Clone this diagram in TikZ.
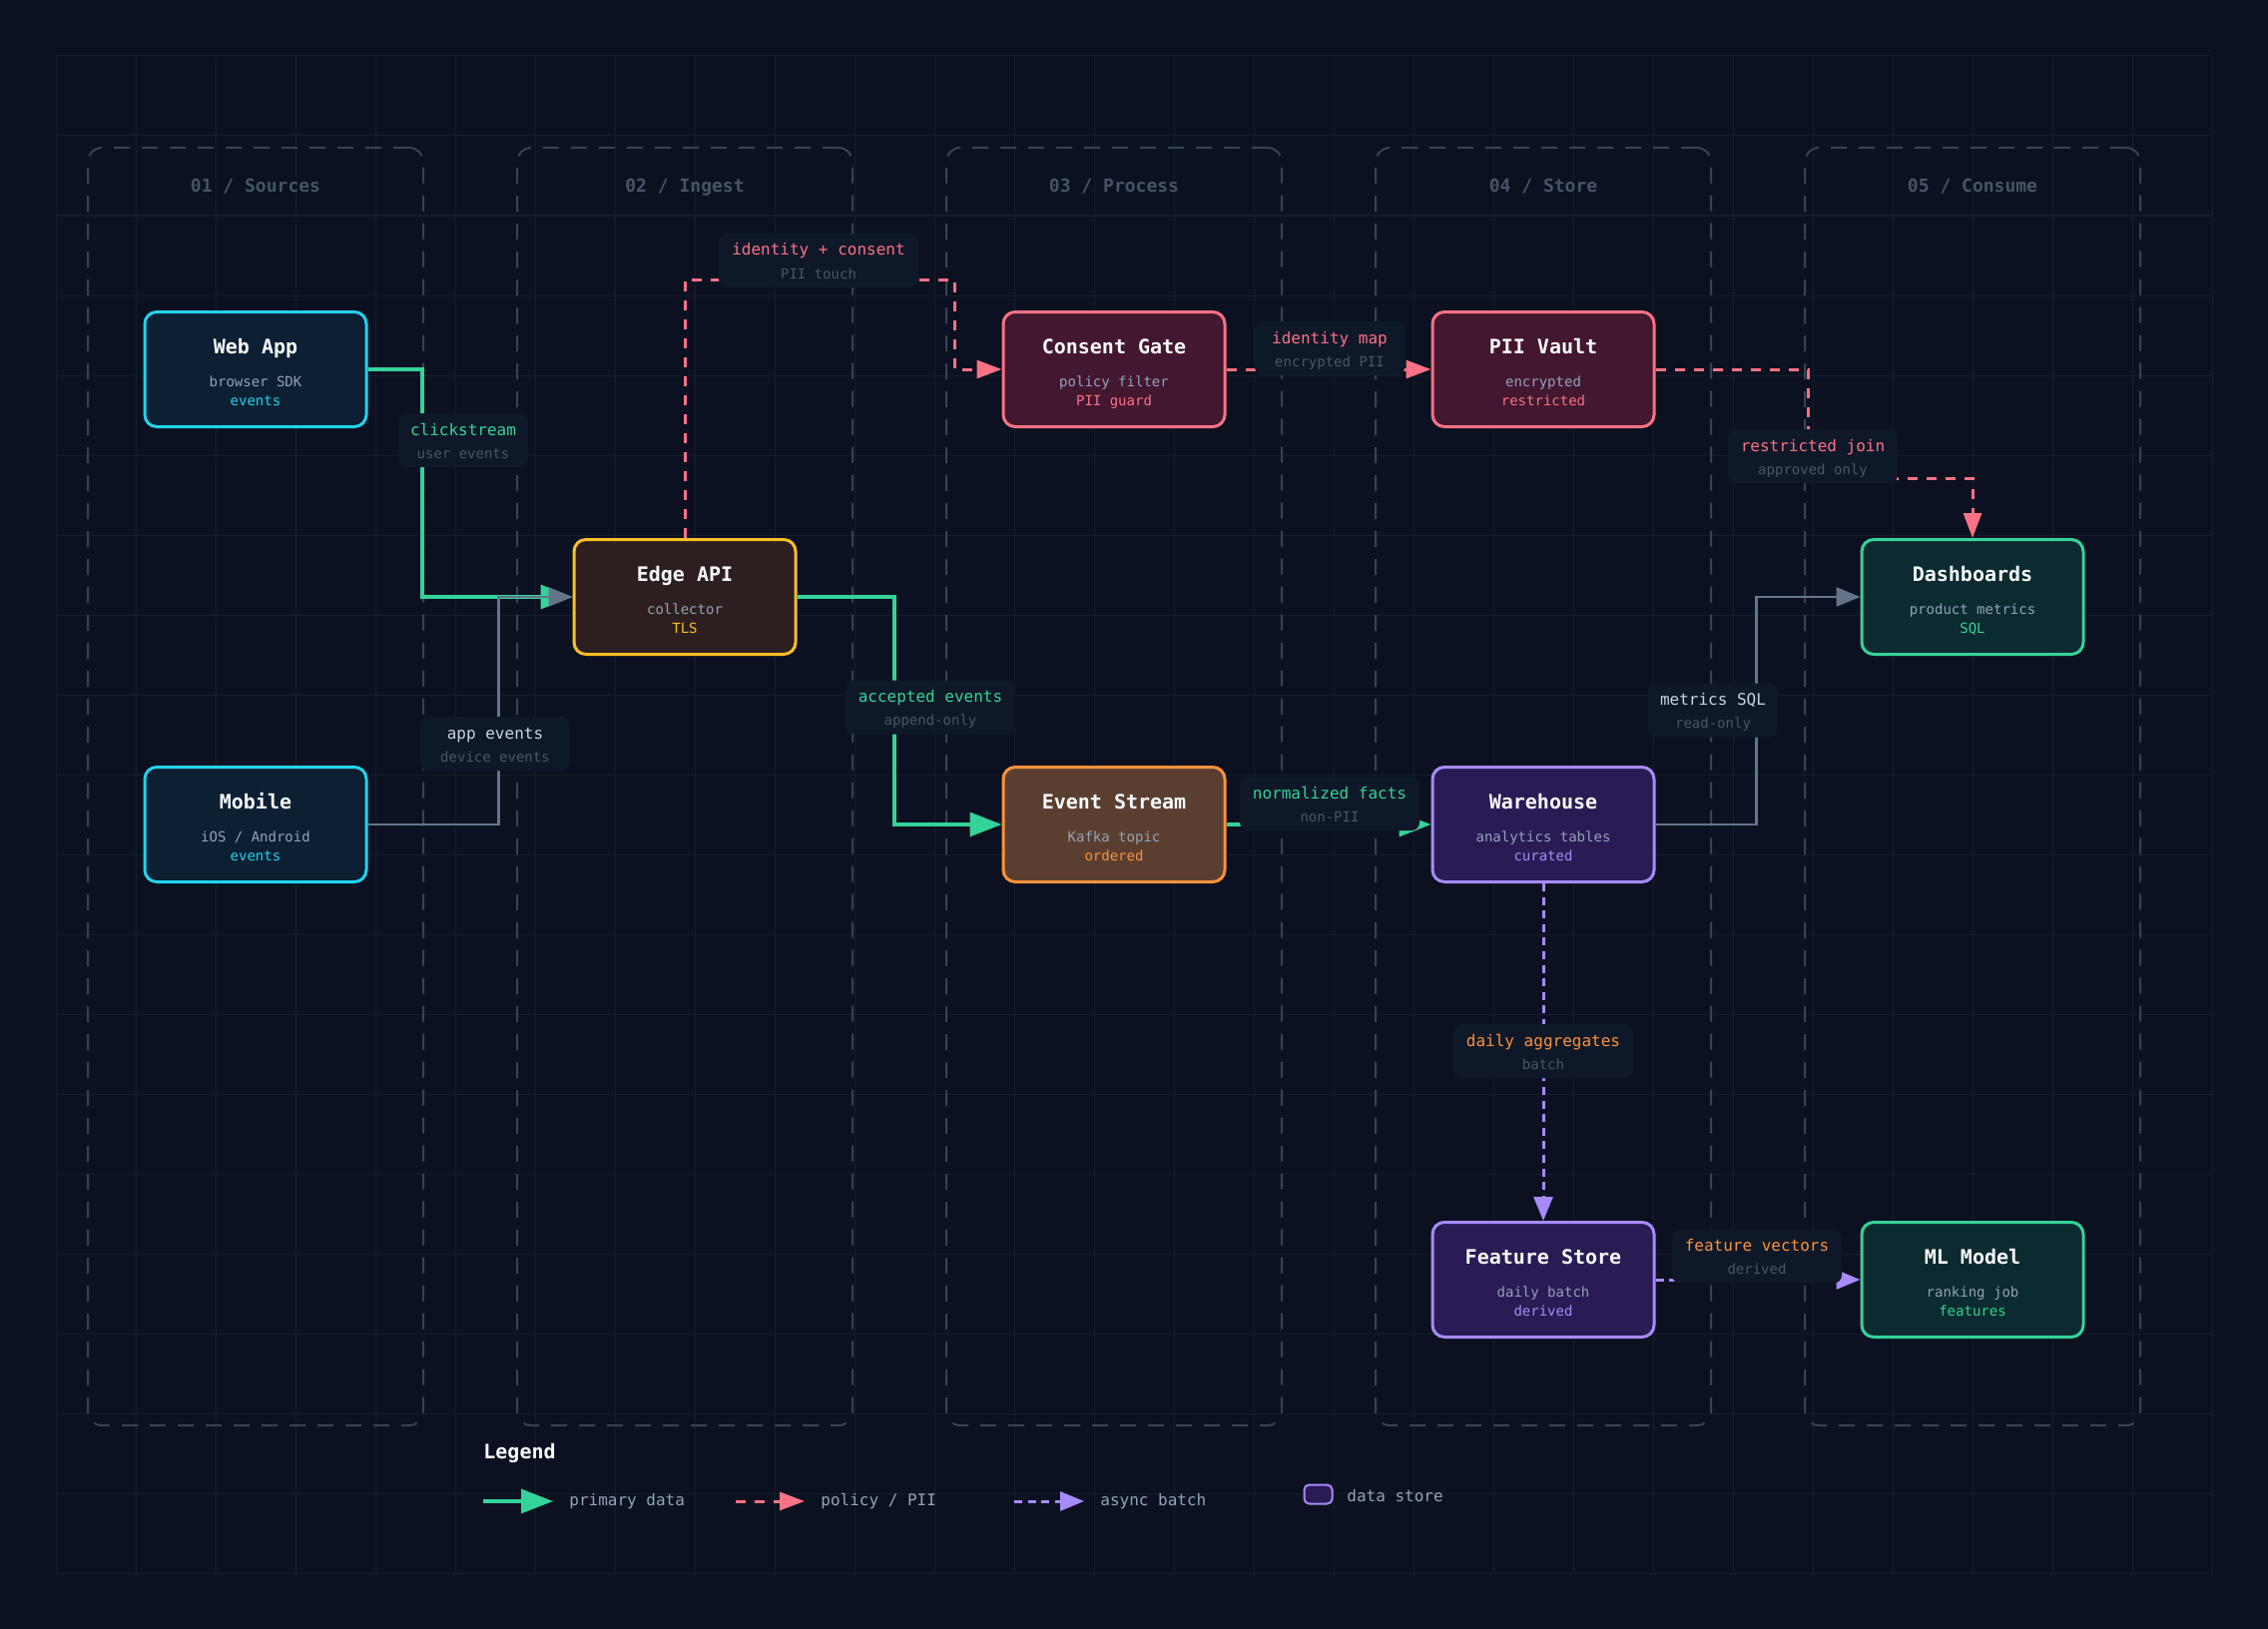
\documentclass[tikz,border=0pt]{standalone}
\usepackage{fontspec}
\setmainfont{DejaVu Sans Mono}
\usetikzlibrary{arrows.meta}
\definecolor{bg}{HTML}{0B1120}
\definecolor{gridc}{HTML}{141D2B}
\definecolor{lanec}{HTML}{364354}
\definecolor{lanetxt}{HTML}{475467}
\definecolor{lblbg}{HTML}{0F1828}
\definecolor{subtxt}{HTML}{94A3B8}
\definecolor{dimtxt}{HTML}{4B5563}
\definecolor{titletxt}{HTML}{F8FAFC}
\definecolor{cyanc}{HTML}{22D3EE}
\definecolor{cyanf}{HTML}{0C1F33}
\definecolor{amberc}{HTML}{FBBF24}
\definecolor{amberf}{HTML}{2D1F20}
\definecolor{pinkc}{HTML}{FB7185}
\definecolor{pinkf}{HTML}{42172F}
\definecolor{orangec}{HTML}{FB923C}
\definecolor{orangef}{HTML}{5A3F30}
\definecolor{purplec}{HTML}{A78BFA}
\definecolor{purplef}{HTML}{2A1B55}
\definecolor{greenc}{HTML}{34D399}
\definecolor{greenf}{HTML}{0B2B30}
\definecolor{grayc}{HTML}{64748B}
\definecolor{lightlbl}{HTML}{CBD5E1}
\tikzset{
  flowbox/.style={draw, line width=1.5pt, rounded corners=6pt, minimum width=111pt, minimum height=57.5pt, inner sep=0pt},
  ttltext/.style={anchor=base, inner sep=0pt, text=titletxt, font=\fontsize{10pt}{12pt}\selectfont\bfseries},
  subtext/.style={anchor=base, inner sep=0pt, text=subtxt, font=\fontsize{7pt}{8pt}\selectfont},
  lanebox/.style={draw=lanec, line width=1pt, dash pattern=on 8pt off 6pt, rounded corners=7pt, minimum width=168pt, minimum height=640pt, inner sep=0pt},
  lanetitle/.style={anchor=base, inner sep=0pt, text=lanetxt, font=\fontsize{9pt}{11pt}\selectfont\bfseries},
  lblbox/.style={fill=lblbg, rounded corners=4pt, minimum height=27pt, inner sep=0pt},
  lblmain/.style={anchor=base, inner sep=0pt, font=\fontsize{8pt}{10pt}\selectfont},
  lblsub/.style={anchor=base, inner sep=0pt, text=dimtxt, font=\fontsize{7pt}{8pt}\selectfont},
  legtext/.style={anchor=base west, inner sep=0pt, text=subtxt, font=\fontsize{8pt}{10pt}\selectfont},
  gridline/.style={draw=gridc, line width=0.5pt},
  primary/.style={draw=greenc, line width=1.6pt, -{Triangle[length=16pt,width=12pt]}},
  graylink/.style={draw=grayc, line width=1.3pt, -{Triangle[length=12pt,width=9.5pt]}},
  policy/.style={draw=pinkc, line width=1.5pt, dash pattern=on 5pt off 4.5pt, -{Triangle[length=12.5pt,width=9pt]}},
  async/.style={draw=purplec, line width=1.5pt, dash pattern=on 4pt off 2.8pt, -{Triangle[length=12pt,width=9.5pt]}},
}
\newcommand{\flownode}[8]{%
  \node[flowbox, fill=#4, draw=#5] (#1) at (#2,#3) {};
  \node[ttltext] (#1-title) at (#2,#3-16) {#6};
  \node[subtext] (#1-sub) at (#2,#3+17) {#7};
  \node[subtext, text=#5] (#1-tag) at (#2,#3+36) {#8};
}
\newcommand{\edgelabel}[7]{%
  \node[lblbox, minimum width=#4pt] (#1) at (#2,#3) {};
  \node[lblmain, text=#5] (#1-main) at (#2,#3-5) {#6};
  \node[lblsub] (#1-sub) at (#2,#3+18) {#7};
}
\newcommand{\lane}[3]{%
  \node[lanebox] (#1) at (#2,788) {};
  \node[lanetitle] (#1-title) at (#2,192) {#3};
}
\begin{document}
\begin{tikzpicture}[x=0.5pt,y=-0.5pt]
\fill[bg] (0,0) rectangle (2272,1632);
\useasboundingbox (0,0) rectangle (2272,1632);
% grid
\foreach \gx in {56,136,...,2216} \draw[gridline] (\gx,56) -- (\gx,1576);
\foreach \gy in {56,136,...,1576} \draw[gridline] (56,\gy) -- (2216,\gy);
% lanes
\lane{lane1}{256}{01 / Sources}
\lane{lane2}{686}{02 / Ingest}
\lane{lane3}{1116}{03 / Process}
\lane{lane4}{1546}{04 / Store}
\lane{lane5}{1976}{05 / Consume}
% nodes
\flownode{web}{256}{370}{cyanf}{cyanc}{Web App}{browser SDK}{events}
\flownode{mobile}{256}{826}{cyanf}{cyanc}{Mobile}{iOS / Android}{events}
\flownode{edge}{686}{598}{amberf}{amberc}{Edge API}{collector}{TLS}
\flownode{consent}{1116}{370}{pinkf}{pinkc}{Consent Gate}{policy filter}{PII guard}
\flownode{stream}{1116}{826}{orangef}{orangec}{Event Stream}{Kafka topic}{ordered}
\flownode{vault}{1546}{370}{pinkf}{pinkc}{PII Vault}{encrypted}{restricted}
\flownode{warehouse}{1546}{826}{purplef}{purplec}{Warehouse}{analytics tables}{curated}
\flownode{feature}{1546}{1282}{purplef}{purplec}{Feature Store}{daily batch}{derived}
\flownode{dash}{1976}{598}{greenf}{greenc}{Dashboards}{product metrics}{SQL}
\flownode{ml}{1976}{1282}{greenf}{greenc}{ML Model}{ranking job}{features}
% bend coordinates
\coordinate (b3) at (956,280);
\coordinate (b7) at (1811,479);
% connectors
\draw[primary] (web.east) -- ++(54.5,0) |- (edge.west);
\draw[graylink] (mobile.east) -- ++(131,0) |- (edge.west);
\draw[policy] (edge.north) |- (b3) |- (consent.west);
\draw[primary] (edge.east) -- ++(97.5,0) |- (stream.west);
\draw[policy] (consent.east) -- (vault.west);
\draw[primary] (stream.east) -- (warehouse.west);
\draw[policy] (vault.east) -| (b7) -| (dash.north);
\draw[graylink] (warehouse.east) -- ++(101,0) |- (dash.west);
\draw[async] (warehouse.south) -- (feature.north);
\draw[async] (feature.east) -- (ml.west);
% labels
\edgelabel{l1}{464}{441}{65}{greenc}{clickstream}{user events}
\edgelabel{l2}{496}{745}{75}{lightlbl}{app events}{device events}
\edgelabel{l3}{820}{261}{100}{pinkc}{identity + consent}{PII touch}
\edgelabel{l4}{932}{708.5}{85}{greenc}{accepted events}{append-only}
\edgelabel{l5}{1332}{349}{75}{pinkc}{identity map}{encrypted PII}
\edgelabel{l6}{1332}{805}{90}{greenc}{normalized facts}{non-PII}
\edgelabel{l7}{1816}{457}{85}{pinkc}{restricted join}{approved only}
\edgelabel{l8}{1716}{711.5}{65}{lightlbl}{metrics SQL}{read-only}
\edgelabel{l9}{1546}{1053}{90}{orangec}{daily aggregates}{batch}
\edgelabel{l10}{1760}{1258.5}{85}{orangec}{feature vectors}{derived}
% legend
\node[ttltext, anchor=base west] (legend) at (484,1461) {Legend};
\coordinate (lg1s) at (484,1504); \coordinate (lg1e) at (554,1504);
\coordinate (lg2s) at (737,1504); \coordinate (lg2e) at (806,1504);
\coordinate (lg3s) at (1016,1504); \coordinate (lg3e) at (1086,1504);
\draw[primary] (lg1s) -- (lg1e);
\draw[policy] (lg2s) -- (lg2e);
\draw[async] (lg3s) -- (lg3e);
\node[legtext] (lgt1) at (570,1508) {primary data};
\node[legtext] (lgt2) at (822,1508) {policy / PII};
\node[legtext] (lgt3) at (1102,1508) {async batch};
\node[draw=purplec, fill=purplef, line width=1pt, rounded corners=2.5pt, minimum width=14pt, minimum height=9.5pt, inner sep=0pt] (ds) at (1320.5,1497) {};
\node[legtext] (lgt4) at (1349,1504) {data store};
\end{tikzpicture}
\end{document}
